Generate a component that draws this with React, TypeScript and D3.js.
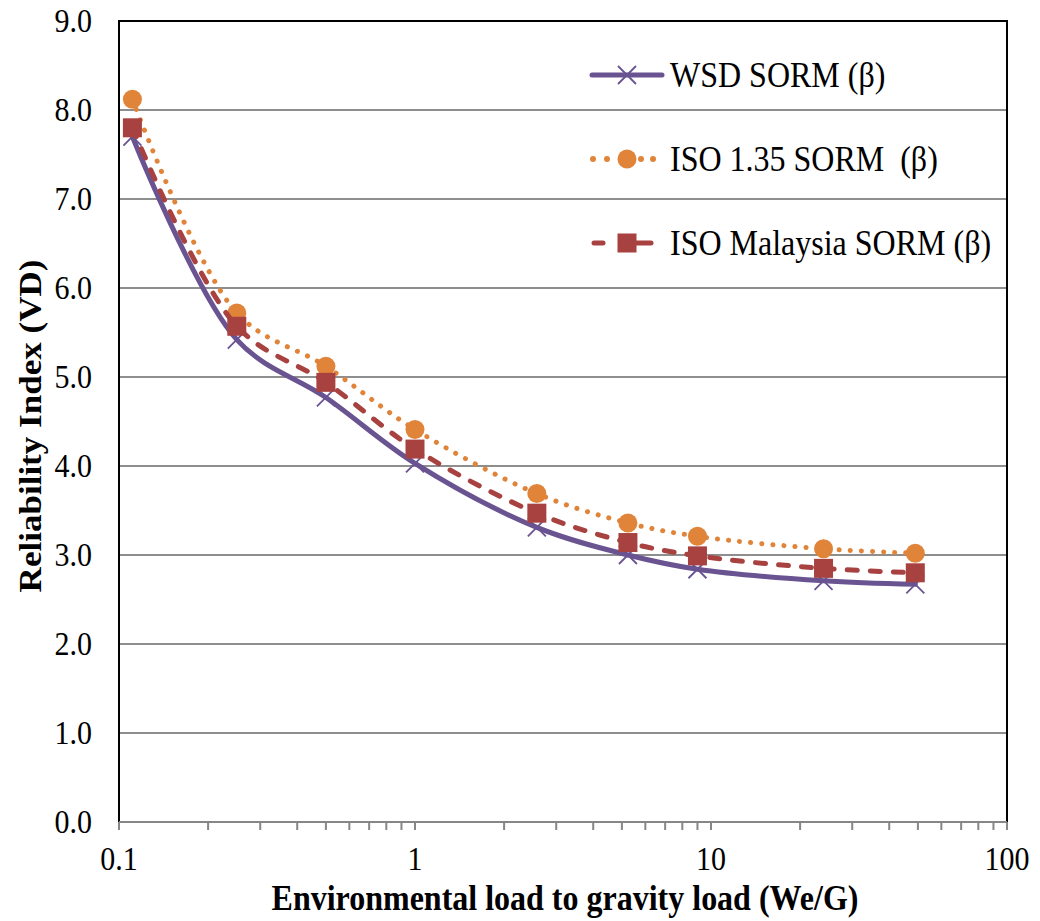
import React from "react";
import * as d3 from "d3";

// load ratio We/G at each analysed case
const ratios = [0.111, 0.25, 0.5, 1, 2.58, 5.24, 9, 24, 49];
const wsdSorm = [7.7, 5.42, 4.77, 4.03, 3.31, 3.0, 2.84, 2.71, 2.67];
const iso135Sorm = [8.12, 5.72, 5.12, 4.41, 3.69, 3.36, 3.21, 3.07, 3.02];
const isoMalaysiaSorm = [7.8, 5.57, 4.94, 4.19, 3.47, 3.14, 2.99, 2.85, 2.8];

const yTicks = [0, 1, 2, 3, 4, 5, 6, 7, 8, 9];
const xMajor = [0.1, 1, 10, 100];
const seriesNames = ["WSD SORM (\u03b2)", "ISO 1.35 SORM \u00a0(\u03b2)", "ISO Malaysia SORM (\u03b2)"];

const W = 1040, H = 921;
const margin = { top: 21, right: 33, bottom: 99, left: 119 };
const FONT = "\"Liberation Serif\", \"DejaVu Serif\", \"Times New Roman\", serif";
const STRETCH = 1.095; // the source picture is a little taller than wide

const PURPLE = "#6a5391";
const ORANGE = "#e0843a";
const RED = "#a74240";

function Marker({ kind, x, y }: { kind: number; x: number; y: number }) {
  if (kind === 0) {
    const s = 9;
    return (
      <path d={`M${x - s},${y - s}L${x + s},${y + s}M${x - s},${y + s}L${x + s},${y - s}`}
        stroke={PURPLE} strokeWidth={1.8} fill="none" />
    );
  }
  if (kind === 1) return <circle cx={x} cy={y} r={9.5} fill={ORANGE} />;
  return <rect x={x - 9.5} y={y - 9.5} width={19} height={19} fill={RED} />;
}

function LegendSample({ i, y }: { i: number; y: number }) {
  if (i === 0) {
    return <line x1={592} x2={662} y1={y} y2={y} stroke={PURPLE} strokeWidth={5} strokeLinecap="round" />;
  }
  if (i === 1) {
    return (
      <g fill={ORANGE}>
        {[593, 607, 641, 653].map(cx => <circle key={cx} cx={cx} cy={y} r={3} />)}
      </g>
    );
  }
  return (
    <g stroke={RED} strokeWidth={5} strokeLinecap="round">
      <line x1={594} x2={603} y1={y} y2={y} />
      <line x1={636} x2={651} y1={y} y2={y} />
    </g>
  );
}

function Txt({ x, y, size, anchor, bold, children }:
  { x: number; y: number; size: number; anchor?: string; bold?: boolean; children: React.ReactNode }) {
  return (
    <text transform={`translate(${x},${y}) scale(1,${STRETCH})`} textAnchor={anchor || "start"}
      fontSize={size} fontWeight={bold ? "bold" : "normal"}>{children}</text>
  );
}

export default function App() {
  const innerW = W - margin.left - margin.right;
  const innerH = H - margin.top - margin.bottom;

  const x = d3.scaleLog().domain([0.1, 100]).range([margin.left, margin.left + innerW]);
  const y = d3.scaleLinear().domain([0, 9]).range([margin.top + innerH, margin.top]);

  const minorTicks = x.ticks().filter(t => !xMajor.includes(t));

  const line = d3.line<[number, number]>()
    .x(d => x(d[0]))
    .y(d => y(d[1]))
    .curve(d3.curveCatmullRom.alpha(0.5));

  const series = [wsdSorm, iso135Sorm, isoMalaysiaSorm];
  const styles = [
    { color: PURPLE, dash: undefined },
    { color: ORANGE, dash: "0.1 11" },
    { color: RED, dash: "10 13" },
  ];

  const bottom = margin.top + innerH;
  const right = margin.left + innerW;

  return (
    <svg width={W} height={H} style={{ position: "absolute", left: 0, top: 0, background: "#fff", fontFamily: FONT }}>
      {/* gridlines */}
      {yTicks.filter(t => t > 0).map(t => (
        <line key={t} x1={margin.left} x2={right} y1={y(t)} y2={y(t)} stroke="#8e8e8e" strokeWidth={2} />
      ))}

      {/* plot border */}
      <path d={`M${margin.left},${bottom}V${margin.top}H${right}V${bottom}`} fill="none" stroke="#000" strokeWidth={2} />

      {/* x axis */}
      <line x1={margin.left} x2={right} y1={bottom} y2={bottom} stroke="#868686" strokeWidth={2} />
      {xMajor.concat(minorTicks).map(t => (
        <line key={"t" + t} x1={x(t)} x2={x(t)} y1={bottom} y2={bottom + 8} stroke="#868686" strokeWidth={2} />
      ))}
      {xMajor.map(t => (
        <Txt key={"l" + t} x={x(t)} y={bottom + 48} size={30} anchor="middle">{String(t)}</Txt>
      ))}

      {/* y labels */}
      {yTicks.map(t => (
        <Txt key={t} x={margin.left - 27} y={y(t) + 11} size={30} anchor="end">{t.toFixed(1)}</Txt>
      ))}

      {/* series */}
      {series.map((vals, i) => (
        <g key={i}>
          <path d={line(ratios.map((r, j) => [r, vals[j]] as [number, number])) || ""}
            fill="none" stroke={styles[i].color} strokeWidth={5}
            strokeDasharray={styles[i].dash} strokeLinecap="round" />
          {ratios.map((r, j) => <Marker key={j} kind={i} x={x(r)} y={y(vals[j])} />)}
        </g>
      ))}

      {/* legend */}
      {seriesNames.map((name, i) => {
        const ly = 75 + i * 84;
        return (
          <g key={name}>
            <LegendSample i={i} y={ly} />
            <Marker kind={i} x={627} y={ly} />
            <Txt x={670} y={ly + 12} size={32}>{name}</Txt>
          </g>
        );
      })}

      {/* axis titles */}
      <Txt x={565} y={910} size={32} anchor="middle" bold>
        Environmental load to gravity load (We/G)
      </Txt>
      <text transform={`translate(41,426) rotate(-90) scale(${STRETCH},1)`} textAnchor="middle"
        fontSize={32} fontWeight="bold">
        Reliability Index  (VD)
      </text>
    </svg>
  );
}
